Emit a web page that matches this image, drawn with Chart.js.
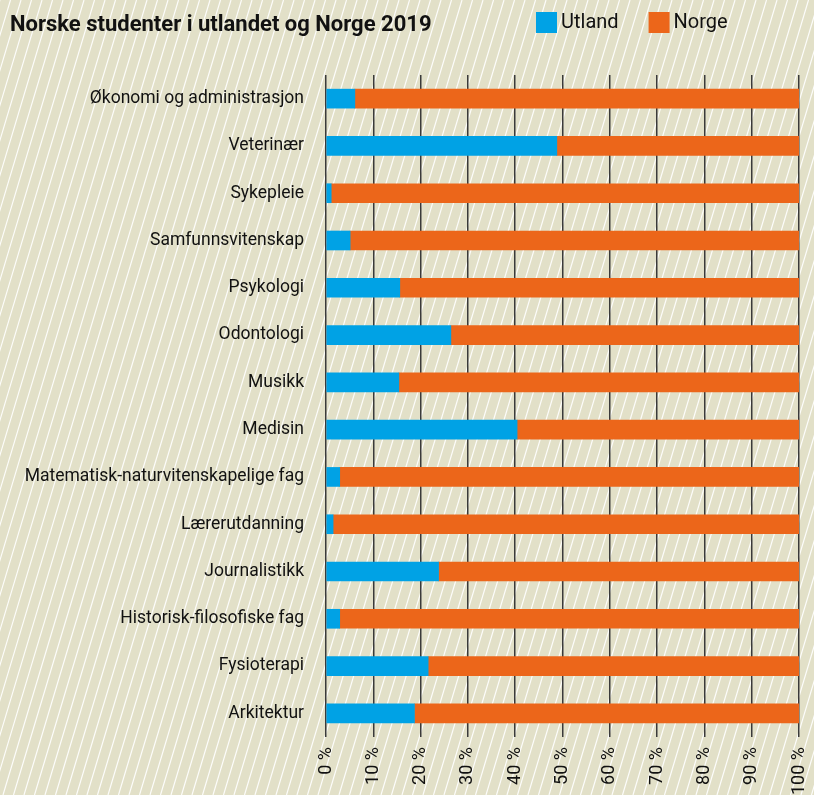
<!DOCTYPE html>
<html>
<head>
<meta charset="utf-8">
<script src="https://cdn.jsdelivr.net/npm/chart.js@4/dist/chart.umd.min.js"></script>
<style>
  html, body { margin: 0; padding: 0; background: #e2e0c8; }
  #wrap { width: 814px; height: 795px; position: relative; }
</style>
</head>
<body>
<div id="wrap"><canvas id="c" width="814" height="795"></canvas></div>
<script>
const titleText = 'Norske studenter i utlandet og Norge 2019';
const categories = [
  'Økonomi og administrasjon',
  'Veterinær',
  'Sykepleie',
  'Samfunnsvitenskap',
  'Psykologi',
  'Odontologi',
  'Musikk',
  'Medisin',
  'Matematisk-naturvitenskapelige fag',
  'Lærerutdanning',
  'Journalistikk',
  'Historisk-filosofiske fag',
  'Fysioterapi',
  'Arkitektur'
];
const utland = [6.1, 48.8, 1.1, 5.1, 15.6, 26.4, 15.4, 40.4, 2.9, 1.5, 23.8, 2.9, 21.6, 18.7];
const norge = [93.9, 51.2, 98.9, 94.9, 84.4, 73.6, 84.6, 59.6, 97.1, 98.5, 76.2, 97.1, 78.4, 81.3];
const xTicks = [0, 10, 20, 30, 40, 50, 60, 70, 80, 90, 100];

const FONT = 'Roboto, "Noto Sans", sans-serif';
const BLUE = '#00a2e5';
const ORANGE = '#ec661a';

const bgPlugin = {
  id: 'hatchBg',
  beforeDraw(chart) {
    const ctx = chart.ctx, W = chart.width, H = chart.height;
    ctx.save();
    ctx.fillStyle = '#e2e0c8';
    ctx.fillRect(0, 0, W, H);
    ctx.strokeStyle = 'rgba(255,255,255,0.9)';
    ctx.lineWidth = 1.2;
    const slope = 0.3, step = 10.5;
    ctx.beginPath();
    for (let x0 = -H * slope; x0 < W + step; x0 += step) {
      ctx.moveTo(x0, H);
      ctx.lineTo(x0 + H * slope, 0);
    }
    ctx.stroke();
    ctx.restore();
  }
};

const headerPlugin = {
  id: 'header',
  afterDraw(chart) {
    const ctx = chart.ctx;
    ctx.save();
    ctx.fillStyle = '#111';
    ctx.font = 'bold 22px ' + FONT;
    ctx.textBaseline = 'alphabetic';
    ctx.textAlign = 'left';
    ctx.fillText(titleText, 10, 31);
    // legend
    ctx.font = '20px ' + FONT;
    ctx.textBaseline = 'middle';
    let x = 536;
    chart.data.datasets.forEach(ds => {
      ctx.fillStyle = ds.backgroundColor;
      ctx.fillRect(x, 12, 21, 21);
      ctx.fillStyle = '#111';
      ctx.fillText(ds.label, x + 25, 23);
      x += 25 + ctx.measureText(ds.label).width + 30;
    });
    ctx.restore();
  }
};

new Chart(document.getElementById('c'), {
  type: 'bar',
  data: {
    labels: categories,
    datasets: [
      { label: 'Utland', data: utland, backgroundColor: BLUE, borderWidth: 0, barThickness: 19 },
      { label: 'Norge', data: norge, backgroundColor: ORANGE, borderWidth: 0, barThickness: 19 }
    ]
  },
  options: {
    indexAxis: 'y',
    responsive: false,
    animation: false,
    devicePixelRatio: 1,
    layout: { padding: { top: 75, right: 15, bottom: 0, left: 0 } },
    plugins: {
      legend: { display: false },
      title: { display: false },
      tooltip: { enabled: false }
    },
    scales: {
      x: {
        stacked: true,
        min: 0,
        max: 100,
        afterBuildTicks(scale) { scale.ticks = xTicks.map(v => ({ value: v })); },
        afterFit(scale) {
          scale.height = 58;
          scale.paddingLeft = 0;
          scale.paddingRight = 0;
        },
        grid: { color: '#3a3a3a', lineWidth: 1.5, drawTicks: false },
        border: { display: false },
        ticks: {
          callback: v => v + ' %',
          minRotation: 90,
          maxRotation: 90,
          padding: 10,
          color: '#111',
          font: { family: FONT, size: 18 },
          autoSkip: false
        }
      },
      y: {
        stacked: true,
        afterFit(scale) {
          scale.width = 326;
          scale.paddingTop = 0;
          scale.paddingBottom = 0;
        },
        grid: { display: false, drawTicks: false },
        border: { display: false },
        ticks: {
          padding: 22,
          color: '#111',
          font: { family: FONT, size: 17.5 },
          autoSkip: false
        }
      }
    }
  },
  plugins: [bgPlugin, headerPlugin]
});
</script>
</body>
</html>
